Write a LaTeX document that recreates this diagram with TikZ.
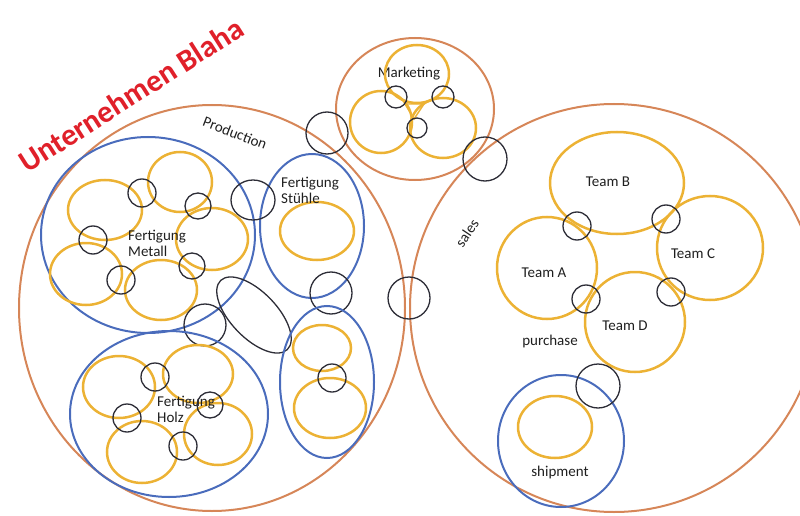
\documentclass[tikz,border=0pt]{standalone}
\usepackage{fontspec}
\setmainfont{Carlito}
\definecolor{unitline}{RGB}{214,134,88}
\definecolor{teamline}{RGB}{236,178,52}
\definecolor{deptline}{RGB}{74,108,188}
\definecolor{linkline}{RGB}{45,45,55}
\definecolor{titlered}{RGB}{224,32,42}
\begin{document}
\begin{tikzpicture}[x=1pt,y=-1pt,
  unit/.style={draw=unitline,line width=2pt},
  dept/.style={draw=deptline,line width=2pt},
  team/.style={draw=teamline,line width=2.5pt},
  link/.style={draw=linkline,line width=1.3pt},
  lbl/.style={text=black!88,font=\fontsize{15}{16}\selectfont,align=left,inner sep=0pt},
]
\useasboundingbox (0,0) rectangle (800,516);
\clip (0,0) rectangle (800,516);

% company title
\node[text=titlered,font=\fontsize{31}{33}\selectfont\bfseries,rotate=32.5] (title) at (131,95) {Unternehmen Blaha};

% ---------- main units ----------
\draw[unit] (212,308) ellipse [x radius=193, y radius=203];   % production
\draw[unit] (614,308) ellipse [x radius=204, y radius=204];   % sales
\draw[unit] (415,109) ellipse [x radius=79, y radius=71];     % marketing

\node[lbl,rotate=-21] (production) at (235,133) {Production};
\node[lbl,rotate=56] (sales) at (467,233) {sales};
\node[lbl] (marketing) at (409,74) {Marketing};

% ---------- marketing teams ----------
\draw[team] (417,74) ellipse [x radius=32, y radius=29];
\draw[team] (381,122) ellipse [x radius=31, y radius=31];
\draw[team] (443,128) ellipse [x radius=33, y radius=30];
\draw[teamline,line width=1.4pt] (405,104) -- (424,104) -- (414,119) -- cycle;
\draw[link] (396,97) circle [radius=11];
\draw[link] (443,97) circle [radius=11];
\draw[link] (417,128) circle [radius=10];

% links between units
\draw[link] (327,133) circle [radius=21];
\draw[link] (485,159) circle [radius=22];
\draw[link] (409,298) circle [radius=21];

% ---------- Fertigung Metall ----------
\draw[dept] (148,235) ellipse [x radius=107, y radius=98];
\draw[team] (105,210) ellipse [x radius=37, y radius=30];
\draw[team] (180,182) ellipse [x radius=32, y radius=30];
\draw[team] (212,239) ellipse [x radius=36, y radius=31];
\draw[team] (86,274) ellipse [x radius=36, y radius=31];
\draw[team] (161,290) ellipse [x radius=36, y radius=30];
\draw[link] (142,193) circle [radius=14];
\draw[link] (198,206) circle [radius=13];
\draw[link] (93,240) circle [radius=14];
\draw[link] (192,266) circle [radius=13];
\draw[link] (121,280) circle [radius=14];
\node[lbl,anchor=west] (metall) at (128,243) {Fertigung\\Metall};

% ---------- Fertigung Stühle ----------
\draw[dept] (312,226) ellipse [x radius=52, y radius=72];
\draw[team] (317,231) ellipse [x radius=37, y radius=29];
\node[lbl,anchor=west] (stuehle) at (281,190) {Fertigung\\Stühle};
\draw[link] (253,200) ellipse [x radius=22, y radius=20];
\draw[link] (331,293) circle [radius=21];

% free link ellipse and Metall/Holz link
\draw[link,rotate around={-46:(254,315)}] (254,315) ellipse [x radius=48, y radius=23];
\draw[link] (205,325) circle [radius=21];

% ---------- unnamed department ----------
\draw[dept] (327,382) ellipse [x radius=47, y radius=76];
\draw[team] (322,348) ellipse [x radius=29, y radius=23];
\draw[team] (330,408) ellipse [x radius=36, y radius=30];
\draw[link] (332,378) circle [radius=14];

% ---------- Fertigung Holz ----------
\draw[dept] (169,414) ellipse [x radius=99, y radius=83];
\draw[team] (119,387) ellipse [x radius=36, y radius=31];
\draw[team] (198,374) ellipse [x radius=35, y radius=29];
\draw[team] (142,452) ellipse [x radius=35, y radius=31];
\draw[team] (218,434) ellipse [x radius=34, y radius=31];
\node[lbl,anchor=west] (holz) at (157,409) {Fertigung\\Holz};
\draw[link] (155,377) circle [radius=14];
\draw[link] (210,405) circle [radius=13];
\draw[link] (127,418) circle [radius=14];
\draw[link] (183,446) circle [radius=14];

% ---------- sales teams ----------
\draw[team] (617,183) ellipse [x radius=67, y radius=51];
\draw[team] (547,268) ellipse [x radius=50, y radius=51];
\draw[team] (710,248) ellipse [x radius=53, y radius=52];
\draw[team] (635,322) ellipse [x radius=50, y radius=50];
\node[lbl] (teamB) at (608,182) {Team B};
\node[lbl] (teamA) at (544,273) {Team A};
\node[lbl] (teamC) at (693,254) {Team C};
\node[lbl] (teamD) at (625,326) {Team D};
\node[lbl] (purchase) at (550,341) {purchase};
\draw[link] (577,226) circle [radius=14];
\draw[link] (666,219) circle [radius=14];
\draw[link] (586,299) circle [radius=14];
\draw[link] (671,292) circle [radius=14];

% ---------- shipment ----------
\draw[dept] (561,441) ellipse [x radius=63, y radius=66];
\draw[team] (555,427) ellipse [x radius=37, y radius=31];
\node[lbl] (shipment) at (560,472) {shipment};
\draw[link] (598,386) circle [radius=22];
\end{tikzpicture}
\end{document}
